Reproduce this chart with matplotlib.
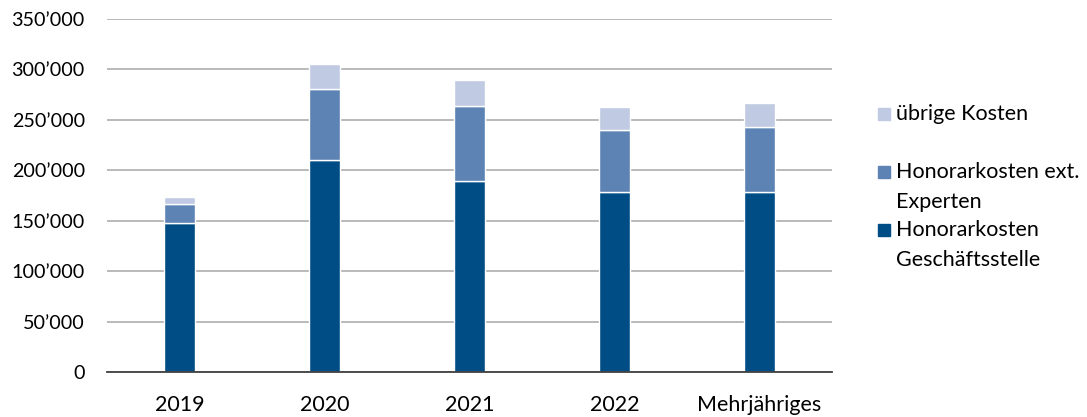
import matplotlib
matplotlib.use("Agg")
import matplotlib.pyplot as plt
from matplotlib.patches import Rectangle
from matplotlib.ticker import FuncFormatter

categories = ["2019", "2020", "2021", "2022", "Mehrjähriges"]
geschaeftsstelle = [148000, 210000, 189000, 178000, 178500]
ext_experten = [19000, 70000, 74500, 61500, 64500]
uebrige = [6500, 25000, 26000, 23000, 24000]
series_labels = ["Honorarkosten\nGeschäftsstelle", "Honorarkosten ext.\nExperten", "übrige Kosten"]
colors = ["#004D86", "#5C83B4", "#C0CBE3"]

plt.rcParams['font.family'] = ['Lato', 'DejaVu Sans']
FS = 15.5

fig = plt.figure(figsize=(10.87, 4.17), dpi=100)
ax = fig.add_axes([107/1087, 1-372.3/417, (832-107)/1087, (372.3-18.7)/417])

x = list(range(len(categories)))
w = 0.22
ax.bar(x, geschaeftsstelle, w, color=colors[0], edgecolor="white", linewidth=1, zorder=3)
bottom2 = geschaeftsstelle
ax.bar(x, ext_experten, w, bottom=bottom2, color=colors[1], edgecolor="white", linewidth=1, zorder=3)
bottom3 = [a + b for a, b in zip(geschaeftsstelle, ext_experten)]
ax.bar(x, uebrige, w, bottom=bottom3, color=colors[2], edgecolor="white", linewidth=1, zorder=3)

ax.set_xlim(-0.5, len(categories) - 0.5)
ax.set_ylim(0, 350000)
ax.set_yticks(range(0, 350001, 50000))
ax.yaxis.set_major_formatter(FuncFormatter(lambda v, p: f"{v:,.0f}".replace(",", "\u2019")))
ax.set_xticks(x)
ax.set_xticklabels(categories)
ax.grid(axis="y", color="#B4B4B4", linewidth=1.3, zorder=0)
for s in ["top", "right", "left"]:
    ax.spines[s].set_visible(False)
ax.spines["bottom"].set_color("#404040")
ax.spines["bottom"].set_linewidth(1.3)
ax.spines["bottom"].set_zorder(4)
ax.tick_params(axis="both", length=0, colors="#000000")
ax.tick_params(axis="y", pad=16, labelsize=14.2)
ax.tick_params(axis="x", pad=16, labelsize=FS)

# legend drawn manually
leg = [
    (colors[2], ["übrige Kosten"], 114),
    (colors[1], ["Honorarkosten ext.", "Experten"], 171.7),
    (colors[0], ["Honorarkosten", "Geschäftsstelle"], 230),
]
for col, lines, ypx in leg:
    fig.patches.append(Rectangle((878/1087, 1-(ypx+6)/417), 12/1087, 12/417,
                                 transform=fig.transFigure, color=col, figure=fig))
    for i, t in enumerate(lines):
        fig.text(896/1087, 1-(ypx + 30*i)/417, t, fontsize=FS, va="center", ha="left", color="#000000")

fig.savefig("out.png", dpi=100)
